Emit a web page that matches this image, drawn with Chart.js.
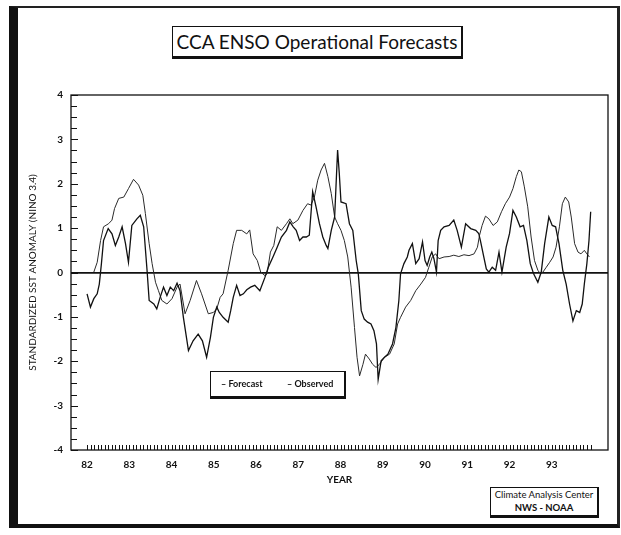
<!DOCTYPE html>
<html>
<head>
<meta charset="utf-8">
<title>CCA ENSO Operational Forecasts</title>
<script src="https://cdn.jsdelivr.net/npm/chart.js@4.4.1/dist/chart.umd.min.js"></script>
<style>
  html, body { margin: 0; padding: 0; background: #fff; }
  #wrap { position: relative; width: 621px; height: 535px; overflow: hidden; font-family: Lato, 'Open Sans', sans-serif; color: #111; }
  #chart { position: absolute; left: 0; top: 0; }
  #frame { position: absolute; left: 9px; top: 6px; width: 599px; height: 516px;
    border-left: 9px solid #111; border-top: 2px solid #222; border-right: 3px solid #222; border-bottom: 4px solid #111; }
  #title { position: absolute; left: 172px; top: 26px; width: 288px; height: 29px;
    border: 1.5px solid #111; border-bottom-width: 3px; border-right-width: 2px; background: #fff;
    font-size: 19px; line-height: 29px; text-align: center; white-space: nowrap; }
  #legend { position: absolute; left: 210px; top: 371px; width: 133px; height: 24px;
    border: 1.5px solid #111; border-bottom-width: 3px; border-right-width: 2px; background: #fff;
    font-size: 9px; font-weight: bold; line-height: 24px; white-space: nowrap; }
  #legend span { position: absolute; top: 0; }
  #cac { position: absolute; left: 490px; top: 487px; width: 106px; height: 27px;
    border: 1.5px solid #111; border-bottom-width: 3px; border-right-width: 2px; background: #fff;
    font-size: 9.5px; line-height: 13px; text-align: center; white-space: nowrap; }
</style>
</head>
<body>
<div id="wrap">
  <canvas id="chart" width="621" height="535"></canvas>
  <div id="frame"></div>
  <div id="title">CCA ENSO Operational Forecasts</div>
  <div id="legend"></div>
  <div id="cac">Climate Analysis Center<br><b>NWS - NOAA</b></div>
</div>
<script>
// forecast series (year, standardized anomaly)
const forecastYears = [
  82.00, 82.08, 82.16, 82.24, 82.29, 82.34, 82.39, 82.50, 82.59, 82.67, 82.75, 82.83, 82.91, 82.98,
  83.06, 83.18, 83.26, 83.34, 83.42, 83.47, 83.58, 83.65, 83.73, 83.81, 83.89, 83.97,
  84.05, 84.13, 84.20, 84.28, 84.40, 84.51, 84.63, 84.73, 84.83, 84.92, 84.99,
  85.07, 85.13, 85.22, 85.34, 85.40, 85.46, 85.54, 85.62, 85.70, 85.78, 85.87, 85.97,
  86.09, 86.21, 86.29, 86.40, 86.50, 86.60, 86.72, 86.80, 86.88, 86.95,
  87.03, 87.11, 87.19, 87.26, 87.34, 87.42, 87.50, 87.58, 87.66, 87.70, 87.78, 87.86, 87.93, 87.97,
  88.01, 88.13, 88.21, 88.29, 88.37, 88.42, 88.49, 88.56, 88.64, 88.72, 88.79, 88.85, 88.89, 88.96,
  89.04, 89.12, 89.23, 89.31, 89.38, 89.42, 89.50, 89.58, 89.62, 89.70, 89.78, 89.86, 89.94,
  90.00, 90.05, 90.11, 90.16, 90.21, 90.27, 90.31, 90.37, 90.45, 90.57, 90.68, 90.76, 90.86, 90.96,
  91.08, 91.20, 91.27, 91.31, 91.39, 91.45, 91.51, 91.59, 91.67, 91.75, 91.82, 91.92,
  92.00, 92.08, 92.16, 92.25, 92.33, 92.41, 92.49, 92.57, 92.67, 92.75, 92.83, 92.93,
  93.01, 93.09, 93.17, 93.26, 93.34, 93.42, 93.50, 93.58, 93.66, 93.72, 93.77, 93.83, 93.88, 93.92
];
const forecastValues = [
  -0.48, -0.78, -0.59, -0.48, -0.26, 0.20, 0.72, 0.99, 0.87, 0.61, 0.80, 1.03, 0.65, 0.23,
  1.06, 1.21, 1.29, 1.03, 0.05, -0.63, -0.71, -0.82, -0.56, -0.33, -0.52, -0.33,
  -0.41, -0.24, -0.41, -1.01, -1.76, -1.54, -1.39, -1.54, -1.91, -1.46, -1.01,
  -0.78, -0.90, -1.01, -1.12, -0.86, -0.56, -0.29, -0.52, -0.48, -0.39, -0.33, -0.29,
  -0.41, -0.11, 0.12, 0.35, 0.57, 0.80, 0.95, 1.14, 1.03, 0.95,
  0.72, 0.80, 0.80, 0.84, 1.82, 1.48, 1.10, 0.80, 0.61, 0.54, 0.95, 1.25, 2.76, 2.23,
  1.59, 1.55, 1.10, 0.95, 0.27, -0.03, -0.86, -1.05, -1.12, -1.16, -1.31, -1.61, -2.41, -1.99,
  -1.91, -1.84, -1.61, -1.24, -0.63, -0.03, 0.20, 0.35, 0.50, 0.65, 0.20, 0.31, 0.69,
  0.27, 0.16, 0.35, 0.46, 0.31, 0.01, 0.72, 0.95, 1.03, 1.06, 1.18, 0.95, 0.57, 1.10,
  0.99, 0.95, 0.88, 0.72, 0.35, 0.08, 0.01, 0.12, 0.05, 0.46, 0.01, 0.57,
  0.88, 1.40, 1.25, 1.03, 1.06, 0.72, 0.20, -0.03, -0.22, 0.01, 0.65, 1.25,
  1.06, 1.03, 0.65, 0.05, -0.26, -0.71, -1.09, -0.86, -0.90, -0.71, -0.26, 0.20, 0.72, 1.37
];

// observed series (year, standardized anomaly)
const observedYears = [
  82.16, 82.24, 82.32, 82.39, 82.51, 82.59, 82.65, 82.75, 82.87, 82.98,
  83.10, 83.22, 83.32, 83.38, 83.47, 83.54, 83.62, 83.69, 83.77, 83.89,
  84.01, 84.13, 84.20, 84.32, 84.44, 84.59, 84.71, 84.87, 84.99,
  85.07, 85.15, 85.22, 85.34, 85.46, 85.54, 85.66, 85.78, 85.85, 85.93,
  86.03, 86.11, 86.21, 86.26, 86.34, 86.42, 86.50, 86.60, 86.72, 86.80, 86.87, 86.99,
  87.11, 87.22, 87.30, 87.38, 87.46, 87.54, 87.62, 87.70, 87.78, 87.86, 87.93,
  88.01, 88.09, 88.17, 88.25, 88.33, 88.39, 88.45, 88.53, 88.59, 88.68, 88.76, 88.84, 88.92,
  89.04, 89.16, 89.27, 89.35, 89.42, 89.54, 89.66, 89.78, 89.90,
  90.01, 90.09, 90.17, 90.25, 90.33, 90.45, 90.57, 90.68, 90.80, 90.92,
  91.04, 91.16, 91.24, 91.29, 91.35, 91.43, 91.51, 91.61, 91.71, 91.81, 91.90,
  92.00, 92.08, 92.16, 92.22, 92.28, 92.35, 92.43, 92.51, 92.59, 92.67, 92.73, 92.79, 92.87, 92.95,
  93.03, 93.10, 93.18, 93.25, 93.32, 93.40, 93.46, 93.54, 93.62, 93.69, 93.77, 93.83, 93.89
];
const observedValues = [
  0.01, 0.23, 0.72, 1.03, 1.10, 1.18, 1.44, 1.67, 1.70, 1.89,
  2.10, 1.97, 1.74, 1.33, 0.65, 0.20, -0.22, -0.41, -0.63, -0.71,
  -0.59, -0.33, -0.26, -0.93, -0.63, -0.18, -0.48, -0.93, -0.90,
  -0.82, -0.56, -0.48, 0.05, 0.65, 0.95, 0.95, 0.87, 0.96, 0.42,
  0.27, 0.01, -0.07, -0.03, 0.46, 0.61, 1.03, 0.95, 1.10, 1.21, 1.10, 1.18,
  1.40, 1.55, 1.52, 1.70, 2.08, 2.31, 2.46, 2.16, 1.78, 1.25, 1.10,
  0.95, 0.72, 0.35, -0.33, -1.24, -1.91, -2.33, -2.07, -1.84, -1.95, -2.07, -2.14, -2.07,
  -1.91, -1.84, -1.61, -1.16, -1.01, -0.78, -0.63, -0.41, -0.26,
  -0.11, 0.12, 0.35, 0.42, 0.31, 0.35, 0.36, 0.39, 0.36, 0.40,
  0.38, 0.42, 0.57, 0.84, 1.06, 1.27, 1.21, 1.06, 1.14, 1.37, 1.55,
  1.70, 1.89, 2.16, 2.31, 2.27, 1.93, 1.48, 0.80, 0.27, 0.05, -0.03, 0.01, 0.12, 0.23,
  0.35, 0.57, 1.03, 1.55, 1.70, 1.59, 1.25, 0.65, 0.46, 0.42, 0.50, 0.42, 0.35
];

const yearTicks = [82, 83, 84, 85, 86, 87, 88, 89, 90, 91, 92, 93];
const yearLabels = ['82', '83', '84', '85', '86', '87', '88', '89', '90', '91', '92', '93'];
const anomalyTicks = [-4, -3, -2, -1, 0, 1, 2, 3, 4];

const ink = '#111';
const labelFont = { family: 'Lato', size: 10, weight: 'bold' };

// plot box plus the small inward ticks (quarter units on y, months on x)
const axisMarks = {
  id: 'axisMarks',
  afterDatasetsDraw(chart) {
    const { ctx, chartArea: a, scales: { x, y } } = chart;
    ctx.save();
    ctx.strokeStyle = ink;
    ctx.lineWidth = 1.3;
    ctx.strokeRect(a.left, a.top, a.right - a.left, a.bottom - a.top);
    ctx.lineWidth = 1;
    ctx.beginPath();
    for (let q = -16; q <= 16; q++) {
      const py = Math.round(y.getPixelForValue(q / 4)) + 0.5;
      ctx.moveTo(a.left, py);
      ctx.lineTo(a.left + (q % 4 === 0 ? 7 : 6), py);
    }
    for (let m = 82 * 12; m < 94 * 12; m++) {
      const px = Math.round(x.getPixelForValue(m / 12)) + 0.5;
      ctx.moveTo(px, a.bottom);
      ctx.lineTo(px, a.bottom - 5);
    }
    ctx.stroke();
    ctx.restore();
  }
};

const toPoints = (xs, ys) => xs.map((v, i) => ({ x: v, y: ys[i] }));

const chart = new Chart(document.getElementById('chart'), {
  type: 'line',
  data: {
    datasets: [
      {
        label: 'Forecast',
        data: toPoints(forecastYears, forecastValues),
        borderColor: ink,
        borderWidth: 1.3,
        pointRadius: 0,
        tension: 0,
      },
      {
        label: 'Observed',
        data: toPoints(observedYears, observedValues),
        borderColor: '#2a2a2a',
        borderWidth: 1,
        pointRadius: 0,
        tension: 0,
      },
    ],
  },
  options: {
    responsive: false,
    animation: false,
    layout: { padding: { left: 27, top: 95, right: 13, bottom: 45 } },
    plugins: { legend: { display: false }, tooltip: { enabled: false } },
    scales: {
      x: {
        type: 'linear',
        min: 81.62,
        max: 94.33,
        afterBuildTicks: (s) => { s.ticks = yearTicks.map((v) => ({ value: v })); },
        afterFit: (s) => { s.height = 40; },
        ticks: {
          autoSkip: false,
          maxRotation: 0,
          padding: 9,
          color: ink,
          font: labelFont,
          callback: (v) => yearLabels[yearTicks.indexOf(v)],
        },
        grid: { display: false, drawTicks: false },
        border: { display: false },
        title: { display: true, text: 'YEAR', color: ink, font: labelFont, padding: { top: 0, bottom: 4 } },
      },
      y: {
        min: -4,
        max: 4,
        afterBuildTicks: (s) => { s.ticks = anomalyTicks.map((v) => ({ value: v })); },
        afterFit: (s) => { s.width = 44; },
        ticks: { padding: 8, color: ink, font: labelFont },
        grid: {
          drawTicks: false,
          lineWidth: 1.8,
          color: (c) => (c.tick && c.tick.value === 0 ? ink : 'rgba(0,0,0,0)'),
        },
        border: { display: false },
        title: {
          display: true,
          text: 'STANDARDIZED SST ANOMALY (NINO 3.4)',
          color: ink,
          font: { family: 'Lato', size: 10 },
          padding: 0,
        },
      },
    },
  },
  plugins: [axisMarks],
});

// legend box drawn from the dataset labels
const legend = document.getElementById('legend');
const legendX = [10, 76];
chart.data.datasets.forEach((ds, i) => {
  const s = document.createElement('span');
  s.style.left = legendX[i] + 'px';
  s.textContent = '\u2013 ' + ds.label;
  legend.appendChild(s);
});
</script>
</body>
</html>
